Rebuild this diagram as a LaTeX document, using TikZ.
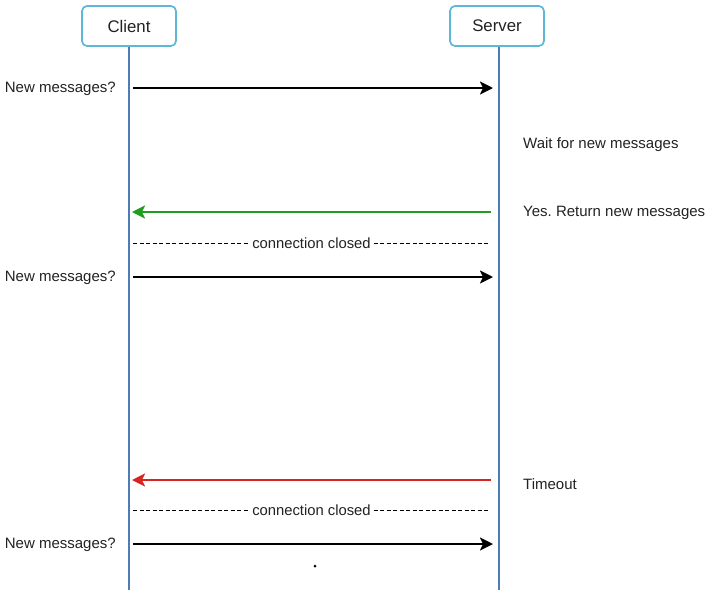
\documentclass[tikz,border=0pt]{standalone}
\usepackage{fontspec}
\setmainfont{Liberation Sans}
\frenchspacing
\usetikzlibrary{arrows.meta}
\definecolor{actorblue}{HTML}{5DB7D6}
\definecolor{lifeblue}{HTML}{4F7DB3}
\definecolor{okgreen}{HTML}{1F9E1F}
\definecolor{failred}{HTML}{D92424}
\definecolor{inkgrey}{HTML}{222222}

\begin{document}
\begin{tikzpicture}[
  x=1pt, y=-1pt,
  every node/.style={text=inkgrey},
  actor/.style={draw=actorblue, line width=1.7pt, rounded corners=5pt, fill=white,
    minimum width=94pt, minimum height=40pt, font=\fontsize{16.8}{19}\selectfont},
  life/.style={draw=lifeblue, line width=1.4pt},
  msg/.style={line width=2.2pt, -{Stealth[length=13pt,width=13pt,inset=3pt]}},
  closed/.style={dashed, dash pattern=on 4pt off 2.5pt, line width=0.7pt},
  note/.style={font=\fontsize{15}{18}\selectfont, inner sep=0pt},
  cut/.style={fill=white, inner sep=2pt, font=\fontsize{14.8}{17}\selectfont}
]
\useasboundingbox (0,0) rectangle (710,590);

\node[actor] (client) at (129,26) {Client};
\node[actor] (server) at (497,26) {Server};
\coordinate (clientend) at (129,590);
\coordinate (serverend) at (499,590);
\draw[life] (client.south) -- (clientend);
\draw[life] (server.south -| serverend) -- (serverend);

% first poll
\coordinate (c1) at (133,88);  \coordinate (s1) at (493,88);
\draw[msg] (c1) -- (s1);
\node[note, anchor=east] (ask1) at (116,89) {New messages?};
\node[note, anchor=west] (wait) at (523,145) {Wait for new messages};
\coordinate (s2) at (491,212); \coordinate (c2) at (132,212);
\draw[msg, draw=okgreen, -{Stealth[length=13pt,width=13pt,inset=3pt,fill=okgreen]}] (s2) -- (c2);
\node[note, anchor=west] (yes) at (523,213) {Yes. Return new messages};
\coordinate (c3) at (133,243); \coordinate (s3) at (490,243);
\draw[closed] (c3) -- node[cut] (close1) {connection closed} (s3);

% second poll
\coordinate (c4) at (133,277); \coordinate (s4) at (493,277);
\draw[msg] (c4) -- (s4);
\node[note, anchor=east] (ask2) at (116,278) {New messages?};
\coordinate (s5) at (491,480); \coordinate (c5) at (132,480);
\draw[msg, draw=failred, -{Stealth[length=13pt,width=13pt,inset=3pt,fill=failred]}] (s5) -- (c5);
\node[note, anchor=west] (timeout) at (523,484) {Timeout};
\coordinate (c6) at (133,510); \coordinate (s6) at (490,510);
\draw[closed] (c6) -- node[cut] (close2) {connection closed} (s6);

% third poll
\coordinate (c7) at (133,544); \coordinate (s7) at (493,544);
\draw[msg] (c7) -- (s7);
\node[note, anchor=east] (ask3) at (116,545) {New messages?};
\fill (315,566) circle (1.5pt);
\end{tikzpicture}
\end{document}
